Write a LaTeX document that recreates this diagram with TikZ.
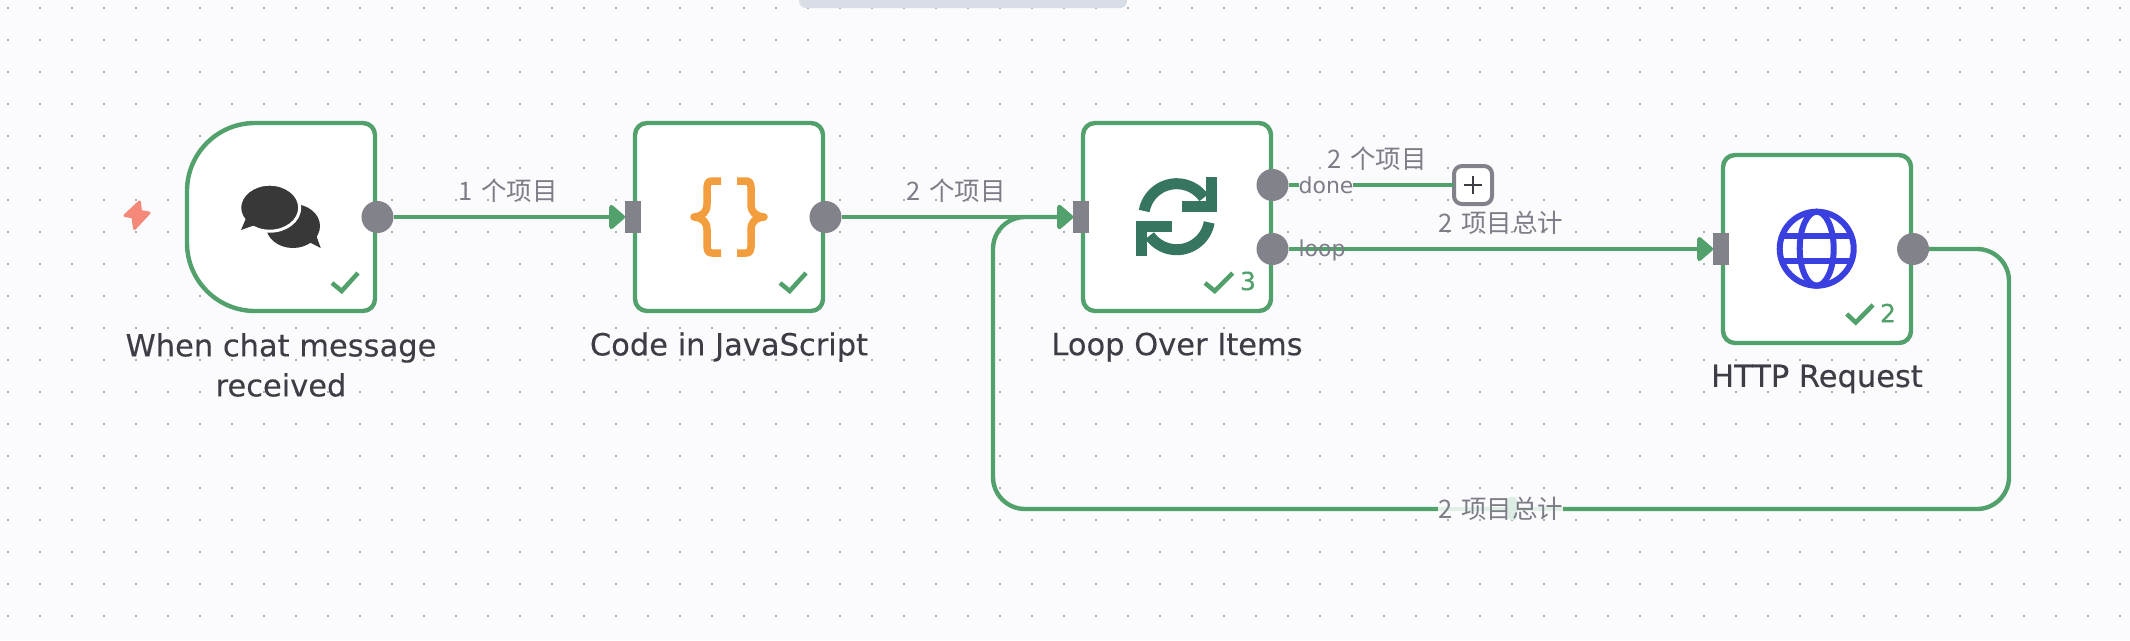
\documentclass[tikz,border=0pt]{standalone}
\usepackage{fontspec}
\setmainfont{DejaVu Sans}
\newfontfamily\ttl[FakeBold=0.25]{DejaVu Sans}
\newfontfamily\cjk[WordSpace=1.5]{Noto Sans CJK SC}
\usetikzlibrary{arrows.meta}
\definecolor{bgc}{HTML}{FBFBFE}
\definecolor{dotc}{HTML}{ADADB2}
\definecolor{barc}{HTML}{D9DDE5}
\definecolor{okc}{HTML}{52A06B}
\definecolor{bandc}{HTML}{E2EFE7}
\definecolor{blobc}{HTML}{DCEDE3}
\definecolor{portc}{HTML}{82828A}
\definecolor{txtc}{HTML}{3D3D45}
\definecolor{lblc}{HTML}{7D7D87}
\definecolor{chatc}{HTML}{383838}
\definecolor{bracec}{HTML}{F29D3E}
\definecolor{loopc}{HTML}{36755F}
\definecolor{globec}{HTML}{3A3FE0}
\definecolor{boltc}{HTML}{F4897A}
\tikzset{
  x=1pt,y=-1pt,
  wfnode/.style={draw=okc,line width=4.4pt,fill=white,rounded corners=12pt,minimum size=188pt,inner sep=0pt,outer sep=0pt},
  ghostnode/.style={minimum size=188pt,inner sep=0pt,outer sep=0pt},
  outport/.style={circle,fill=portc,minimum size=32pt,inner sep=0pt,outer sep=0pt},
  inport/.style={rectangle,fill=portc,minimum width=16pt,minimum height=32pt,inner sep=0pt,outer sep=0pt},
  wire/.style={draw=okc,line width=4.4pt},
  flow/.style={wire,-{Triangle[length=17pt,width=28pt,round]}},
  title/.style={text=txtc,font=\fontsize{30.5}{40}\ttl,align=center,inner sep=0pt},
  count/.style={text=lblc,font=\fontsize{25.5}{28}\cjk,inner sep=0pt},
  portname/.style={text=lblc,font=\fontsize{22}{24}\selectfont,inner sep=0pt},
  checkmark/.style={draw=okc,line width=4.5pt,line join=miter},
  runs/.style={text=okc,font=\fontsize{25}{28}\ttl,inner sep=0pt},
}
\begin{document}
\begin{tikzpicture}
\useasboundingbox (0,0) rectangle (2130,640);
\fill[bgc] (0,0) rectangle (2130,640);
% dot grid
\foreach \gx in {0,...,66}{
  \foreach \gy in {0,...,19}{
    \fill[dotc] ({7+32*\gx},{7+32*\gy}) rectangle ++(2,2);
  }
}
% top bar
\fill[barc,rounded corners=7pt] (799,-12) rectangle (1127,8);

% lightning bolt
\fill[boltc,draw=boltc,line width=3pt,line join=round]
  (139.5,202) -- (125,215.5) -- (133,217) -- (134.5,228.5) -- (149,213) -- (140.5,211.5) -- cycle;

% nodes
\node[ghostnode] (n1) at (281,217) {};
\draw[okc,line width=4.4pt,fill=white]
  (n1.north east) ++(-12,0) -- ++(-108,0) arc (270:180:68) -- ++(0,52) arc (180:90:68)
  -- ++(108,0) arc (90:0:12) -- ++(0,-164) arc (0:-90:12) -- cycle;
\node[wfnode] (n2) at (729,217) {};
\node[wfnode] (n3) at (1177,217) {};
\node[wfnode] (n4) at (1817,249) {};

% chat icon
\fill[chatc] (293,226) ellipse (27 and 22);
\fill[chatc] (305,240) -- (320.7,248) -- (315,232) -- cycle;
\fill[chatc,draw=white,line width=3pt] (269.7,207.7) ellipse (30 and 23.5);
\fill[chatc] (255,225) -- (241,230) -- (247,216) -- cycle;

% brace icon
\foreach \sx/\cx in {1/729,-1/729}{
  \draw[bracec,line width=7.5pt,line join=round,shift={(\cx,217)},xscale=\sx]
    (-8,-36) -- (-17,-36) .. controls (-21,-36) and (-22,-33) .. (-22,-30)
    -- (-22,-13) .. controls (-22,-5) and (-26,-1) .. (-35,0)
    .. controls (-26,1) and (-22,5) .. (-22,13)
    -- (-22,30) .. controls (-22,33) and (-21,36) .. (-17,36) -- (-8,36);
}

% loop icon
\begin{scope}[shift={(1176.7,216.7)}]
  \draw[loopc,line width=11pt] (190:33) arc (190:325:33);
  \draw[loopc,line width=11pt] (10:33) arc (10:145:33);
  \fill[loopc,draw=loopc,line width=1pt,line join=round]
    (30,-39) -- (40,-39) -- (40,-5) -- (5.7,-5) -- (5.7,-15) -- (30,-15) -- cycle;
  \fill[loopc,draw=loopc,line width=1pt,line join=round]
    (-30,39) -- (-40,39) -- (-40,5) -- (-5.7,5) -- (-5.7,15) -- (-30,15) -- cycle;
\end{scope}

% globe icon
\begin{scope}[shift={(1816.7,248.7)}]
  \draw[globec,line width=6pt] (0,0) circle (37);
  \draw[globec,line width=6pt] (0,0) ellipse (17 and 37);
  \draw[globec,line width=6pt] (-35,-12.7) -- (35,-12.7);
  \draw[globec,line width=6pt] (-35,12.7) -- (35,12.7);
\end{scope}

% check marks
\draw[checkmark] (332,283) -- (341.7,291) -- (358,273);
\draw[checkmark] (780,283) -- (789.7,291) -- (806,273);
\draw[checkmark] (1205,283) -- (1214.7,291) -- (1232.7,273);
\draw[checkmark] (1846.7,314) -- (1855.7,322.5) -- (1873,305);
\node[runs] (r3) at (1248,281) {3};
\node[runs] (r4) at (1888,313) {2};

% ports
\node[outport] (n1out) at (377.5,217) {};
\node[outport] (n2out) at (825.5,217) {};
\node[outport] (n3done) at (1272.5,185) {};
\node[outport] (n3loop) at (1272.5,249) {};
\node[outport] (n4out) at (1913,249) {};
\node[inport] (n2in) at (633,217) {};
\node[inport] (n3in) at (1081,217) {};
\node[inport] (n4in) at (1721,249) {};

% plus box
\node[draw=portc,line width=4pt,fill=white,rounded corners=8pt,minimum size=38pt,inner sep=0pt,outer sep=0pt] (plus) at (1473,185) {};
\draw[txtc,line width=2pt] (plus.center) ++(-9,0) -- ++(18,0);
\draw[txtc,line width=2pt] (plus.center) ++(0,-9) -- ++(0,18);

% connectors
\coordinate (c1) at (2009,249);
\coordinate (c2) at (2009,509);
\coordinate (c3) at (993,509);
\coordinate (c4) at (993,217);
\draw[flow,rounded corners=32pt] (n4out.east) -- (c1) -- (c2) -- (c3) -- (c4) -- (n3in.west);
\draw[flow] (n1out.east) -- (n2in.west);
\draw[flow] (n2out.east) -- (n3in.west);
\draw[flow] (n3loop.east) -- (n4in.west);
\draw[wire] (n3done.east) -- (plus.west);

% texts
\node[title] (t1) at (281,365) {When chat message\\received};
\node[title] (t2) at (729,347) {Code in JavaScript};
\node[title] (t3) at (1177,347) {Loop Over Items};
\node[title] (t4) at (1817,379) {HTTP Request};
\node[count] (l1) at (508,191) {1 个项目};
\node[count] (l2) at (956,191) {2 个项目};
\node[count] (l3) at (1377,159) {2 个项目};
\node[count] (l4) at (1501,223) {2 项目总计};
% masked stretch of the return wire under its label
\fill[bgc] (1438,500) rectangle (1563,518);
\fill[bandc] (1438,506.8) rectangle (1563,511.2);
\fill[blobc,rounded corners=3pt] (1508,497) rectangle (1517,520);
\node[count] (l5) at (1501,509) {2 项目总计};
\node[portname,fill=bgc] (pd) at (1326,185) {done};
\node[portname] (pl) at (1322,250) {loop};
\end{tikzpicture}
\end{document}
